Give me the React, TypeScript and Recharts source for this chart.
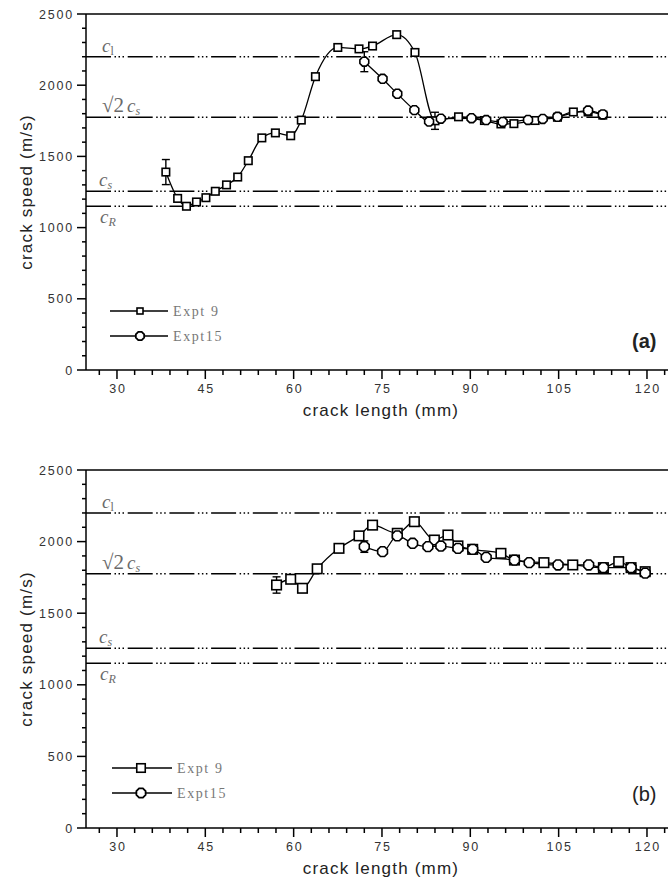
import React from 'react';
import { LineChart, Line, XAxis, YAxis, ReferenceLine, ErrorBar, Legend, Label } from 'recharts';

// ---------- data ----------
const seriesNames = ['Expt 9', 'Expt15'];

const topExpt9X = [38.3, 40.3, 41.8, 43.5, 45.1, 46.7, 48.6, 50.5, 52.3, 54.6, 56.9, 59.5, 61.3, 63.7, 67.5, 71.1, 73.4, 77.5, 80.6, 84.0, 88.0, 92.4, 95.2, 97.4, 101.0, 104.8, 107.5, 110.0, 112.5];
const topExpt9Y = [1390, 1205, 1150, 1180, 1210, 1255, 1300, 1355, 1470, 1630, 1665, 1645, 1755, 2060, 2265, 2255, 2275, 2355, 2230, 1750, 1778, 1752, 1728, 1730, 1752, 1775, 1812, 1812, 1790];
const topExpt9Err = [88, 0, 0, 0, 0, 0, 0, 0, 0, 0, 0, 0, 0, 0, 0, 0, 0, 0, 0, 60, 0, 0, 0, 0, 0, 0, 0, 0, 0];

const topExpt15X = [72.0, 75.1, 77.6, 80.5, 83.0, 85.0, 90.2, 92.7, 95.5, 99.8, 102.3, 104.8, 110.0, 112.5];
const topExpt15Y = [2165, 2045, 1940, 1825, 1745, 1765, 1768, 1755, 1742, 1756, 1763, 1778, 1822, 1795];
const topExpt15Err = [70, 0, 0, 0, 0, 0, 0, 0, 0, 0, 0, 0, 0, 0];

const botExpt9X = [57.1, 59.5, 61.5, 64.0, 67.7, 71.1, 73.4, 77.6, 80.5, 83.9, 86.2, 87.9, 90.4, 95.2, 97.5, 102.5, 107.4, 112.6, 115.2, 117.3, 119.7];
const botExpt9Y = [1697, 1737, 1674, 1810, 1953, 2040, 2115, 2058, 2139, 2011, 2046, 1970, 1946, 1918, 1871, 1853, 1837, 1818, 1860, 1818, 1790];
const botExpt9Err = [57, 0, 0, 0, 0, 0, 0, 0, 0, 0, 0, 0, 0, 0, 0, 0, 0, 0, 0, 0, 0];

const botExpt15X = [72.0, 75.1, 77.6, 80.2, 82.8, 85.0, 87.9, 90.4, 92.7, 97.5, 100.0, 104.9, 110.1, 112.6, 117.3, 119.7];
const botExpt15Y = [1965, 1930, 2040, 1988, 1965, 1969, 1953, 1946, 1890, 1871, 1853, 1837, 1837, 1818, 1818, 1780];
const botExpt15Err = [40, 0, 0, 0, 0, 0, 0, 0, 0, 0, 0, 0, 0, 0, 0, 0];

const refSpeeds = [2200, 1775, 1255, 1150];
const refKinds = ['cl', 'sqrt2cs', 'cs', 'cR'];

const xMajorTicks = [30, 45, 60, 75, 90, 105, 120];
const xAllTicks = [27, 30, 33, 36, 39, 42, 45, 48, 51, 54, 57, 60, 63, 66, 69, 72, 75, 78, 81, 84, 87, 90, 93, 96, 99, 102, 105, 108, 111, 114, 117, 120, 123];
const yMajorTicks = [0, 500, 1000, 1500, 2000, 2500];
const yAllTicks = [0, 100, 200, 300, 400, 500, 600, 700, 800, 900, 1000, 1100, 1200, 1300, 1400, 1500, 1600, 1700, 1800, 1900, 2000, 2100, 2200, 2300, 2400, 2500];

const xTitle = 'crack length (mm)';
const yTitle = 'crack speed (m/s)';

// ---------- helpers ----------
const build = (xs: number[], ys: number[], es: number[]) =>
  xs.map((x, i) => ({ x, v: ys[i], err: es[i] ? es[i] : undefined }));

const SANS = '"Liberation Sans", Arial, sans-serif';
const SERIF = '"Liberation Serif", "DejaVu Serif", serif';
const DASH = '25 3.5 1.5 2.5 1.5 2.5 1.5 3.7';

const octPoints = (cx: number, cy: number, r: number) => {
  const pts: string[] = [];
  for (let k = 0; k < 8; k++) {
    const a = Math.PI / 8 + (k * Math.PI) / 4;
    pts.push(`${cx + r * Math.cos(a)},${cy + r * Math.sin(a)}`);
  }
  return pts.join(' ');
};

const makeSquare = (s: number) => (p: any) => {
  if (p.cx == null || p.cy == null) return <g key={`s-${p.index}`} />;
  return (
    <rect key={`s-${p.index}`} x={p.cx - s / 2} y={p.cy - s / 2} width={s} height={s} fill="#fff" stroke="#000" strokeWidth={1.6} />
  );
};
const makeOct = (r: number) => (p: any) => {
  if (p.cx == null || p.cy == null) return <g key={`o-${p.index}`} />;
  return <polygon key={`o-${p.index}`} points={octPoints(p.cx, p.cy, r)} fill="#fff" stroke="#000" strokeWidth={1.6} />;
};

const XTick = (props: any) => {
  const { x, y, payload } = props;
  const major = xMajorTicks.includes(payload.value);
  return (
    <g>
      <line x1={x} x2={x} y1={y} y2={y + (major ? 9 : 5)} stroke="#000" strokeWidth={1.5} />
      {major && (
        <text x={x + 1} y={y + 23} textAnchor="middle" fontSize={12.5} letterSpacing={1.8} fill="#333" fontFamily={SANS}>
          {payload.value}
        </text>
      )}
    </g>
  );
};

const YTick = (props: any) => {
  const { x, y, payload } = props;
  const major = yMajorTicks.includes(payload.value);
  return (
    <g>
      <line x1={x} x2={x - (major ? 9 : 4)} y1={y} y2={y} stroke="#000" strokeWidth={1.5} />
      {major && (
        <text x={x - 12} y={y + 4.5} textAnchor="end" fontSize={12.5} letterSpacing={1.8} fill="#333" fontFamily={SANS}>
          {payload.value}
        </text>
      )}
    </g>
  );
};

const RefLabel = (kind: string) => (props: any) => {
  const vb = props.viewBox || {};
  const x0 = (vb.x || 0) + 16;
  const y0 = vb.y || 0;
  const common = { fill: '#6a6a6a', fontFamily: SERIF, fontSize: 19 } as any;
  if (kind === 'cl')
    return (
      <text x={x0} y={y0 - 5} {...common}>
        <tspan fontStyle="italic">c</tspan>
        <tspan fontSize={12} dy={3}>l</tspan>
      </text>
    );
  if (kind === 'sqrt2cs')
    return (
      <text x={x0} y={y0 - 5} {...common}>
        <tspan fontSize={21}>√2</tspan>
        <tspan fontStyle="italic" dx={3}>c</tspan>
        <tspan fontSize={12} fontStyle="italic" dy={3}>s</tspan>
      </text>
    );
  if (kind === 'cs')
    return (
      <text x={x0 - 3} y={y0 - 5} {...common}>
        <tspan fontStyle="italic">c</tspan>
        <tspan fontSize={12} fontStyle="italic" dy={3}>s</tspan>
      </text>
    );
  return (
    <text x={x0 - 2} y={y0 + 17} {...common}>
      <tspan fontStyle="italic">c</tspan>
      <tspan fontSize={12} fontStyle="italic" dy={3}>R</tspan>
    </text>
  );
};

const XTitle = (props: any) => {
  const vb = props.viewBox || {};
  return (
    <text x={vb.x + 295} y={vb.y + 46} textAnchor="middle" fontSize={17} letterSpacing={1.2} fill="#222" fontFamily={SANS}>
      {xTitle}
    </text>
  );
};
const YTitle = (props: any) => {
  const vb = props.viewBox || {};
  const cy = vb.y + vb.height / 2;
  return (
    <text x={32} y={cy} transform={`rotate(-90 32 ${cy})`} textAnchor="middle" fontSize={17} letterSpacing={1.2} fill="#222" fontFamily={SANS}>
      {yTitle}
    </text>
  );
};

type PanelProps = {
  d9: any[];
  d15: any[];
  sq: number;
  oct: number;
  legendLeft: number;
  legendTop: number;
  legendLine: [number, number];
  legendMid: number;
  legendSq: number;
  legendOct: number;
  height: number;
};

const LegendBox = (p: { sq: number; oct: number; line: [number, number]; mid: number }) => (
  <svg width={170} height={52} style={{ display: 'block' }}>
    {seriesNames.map((name, i) => {
      const y = 13 + i * 25;
      return (
        <g key={name}>
          <line x1={p.line[0]} x2={p.line[1]} y1={y} y2={y} stroke="#000" strokeWidth={1.4} />
          {i === 0 ? (
            <rect x={p.mid - p.sq / 2} y={y - p.sq / 2} width={p.sq} height={p.sq} fill="#fff" stroke="#000" strokeWidth={1.6} />
          ) : (
            <polygon points={octPoints(p.mid, y, p.oct)} fill="#fff" stroke="#000" strokeWidth={1.8} />
          )}
          <text x={p.line[1] + 5} y={y + 5} fontSize={14} letterSpacing={1.6} fill="#777" fontFamily={SERIF}>
            {name}
          </text>
        </g>
      );
    })}
  </svg>
);

const Panel = (p: PanelProps) => (
  <LineChart width={668} height={p.height} margin={{ top: 14, right: 0, bottom: 0, left: 0 }}>
    <XAxis
      dataKey="x"
      type="number"
      domain={[24.74, 123.57]}
      ticks={xAllTicks}
      interval={0}
      tick={<XTick />}
      tickLine={false}
      tickSize={0}
      tickMargin={0}
      axisLine={{ stroke: '#000', strokeWidth: 1.5 }}
      height={60}
      allowDataOverflow
    >
      <Label content={<XTitle />} />
    </XAxis>
    <YAxis
      type="number"
      domain={[0, 2500]}
      ticks={yAllTicks}
      interval={0}
      tick={<YTick />}
      tickLine={false}
      tickSize={0}
      tickMargin={0}
      axisLine={{ stroke: '#000', strokeWidth: 1.5 }}
      width={86}
    >
      <Label content={<YTitle />} />
    </YAxis>
    <ReferenceLine y={2500} stroke="#000" strokeWidth={1.5} />
    {refSpeeds.map((v, i) => (
      <ReferenceLine key={refKinds[i]} y={v} stroke="#000" strokeWidth={1.5} strokeDasharray={DASH} label={{ content: RefLabel(refKinds[i]) } as any} />
    ))}
    <Line
      data={p.d9}
      dataKey="v"
      name={seriesNames[0]}
      type="monotone"
      stroke="#000"
      strokeWidth={1.3}
      dot={makeSquare(p.sq)}
      activeDot={false}
      isAnimationActive={false}
    >
      <ErrorBar dataKey="err" direction="y" width={4} stroke="#000" strokeWidth={1.4} />
    </Line>
    <Line
      data={p.d15}
      dataKey="v"
      name={seriesNames[1]}
      type="monotone"
      stroke="#000"
      strokeWidth={1.3}
      dot={makeOct(p.oct)}
      activeDot={false}
      isAnimationActive={false}
    >
      <ErrorBar dataKey="err" direction="y" width={4} stroke="#000" strokeWidth={1.4} />
    </Line>
    <Legend
      layout="vertical"
      align="center"
      verticalAlign="middle"
      wrapperStyle={{ position: 'absolute', left: p.legendLeft, top: p.legendTop, width: 170, height: 52 }}
      content={() => <LegendBox sq={p.legendSq} oct={p.legendOct} line={p.legendLine} mid={p.legendMid} />}
    />
  </LineChart>
);

export default function App() {
  const top9 = build(topExpt9X, topExpt9Y, topExpt9Err);
  const top15 = build(topExpt15X, topExpt15Y, topExpt15Err);
  const bot9 = build(botExpt9X, botExpt9Y, botExpt9Err);
  const bot15 = build(botExpt15X, botExpt15Y, botExpt15Err);
  return (
    <div style={{ position: 'absolute', left: 0, top: 0, width: 668, height: 879, background: '#fff', overflow: 'hidden' }}>
      <div style={{ position: 'absolute', left: 0, top: 0 }}>
        <Panel d9={top9} d15={top15} sq={7.5} oct={4.8} height={430} legendLeft={100} legendTop={298} legendLine={[10, 68]} legendMid={40} legendSq={6} legendOct={4.5} />
      </div>
      <div style={{ position: 'absolute', left: 0, top: 456 }}>
        <Panel d9={bot9} d15={bot15} sq={9.5} oct={5.3} height={432} legendLeft={100} legendTop={299} legendLine={[12, 72]} legendMid={41} legendSq={8.5} legendOct={5} />
      </div>
      <div style={{ position: 'absolute', left: 632, top: 330, fontSize: 20, lineHeight: '22px', fontFamily: SANS, fontWeight: 'bold', color: '#222' }}>(a)</div>
      <div style={{ position: 'absolute', left: 632, top: 783, fontSize: 20, lineHeight: '22px', fontFamily: SANS, color: '#222' }}>(b)</div>
    </div>
  );
}
